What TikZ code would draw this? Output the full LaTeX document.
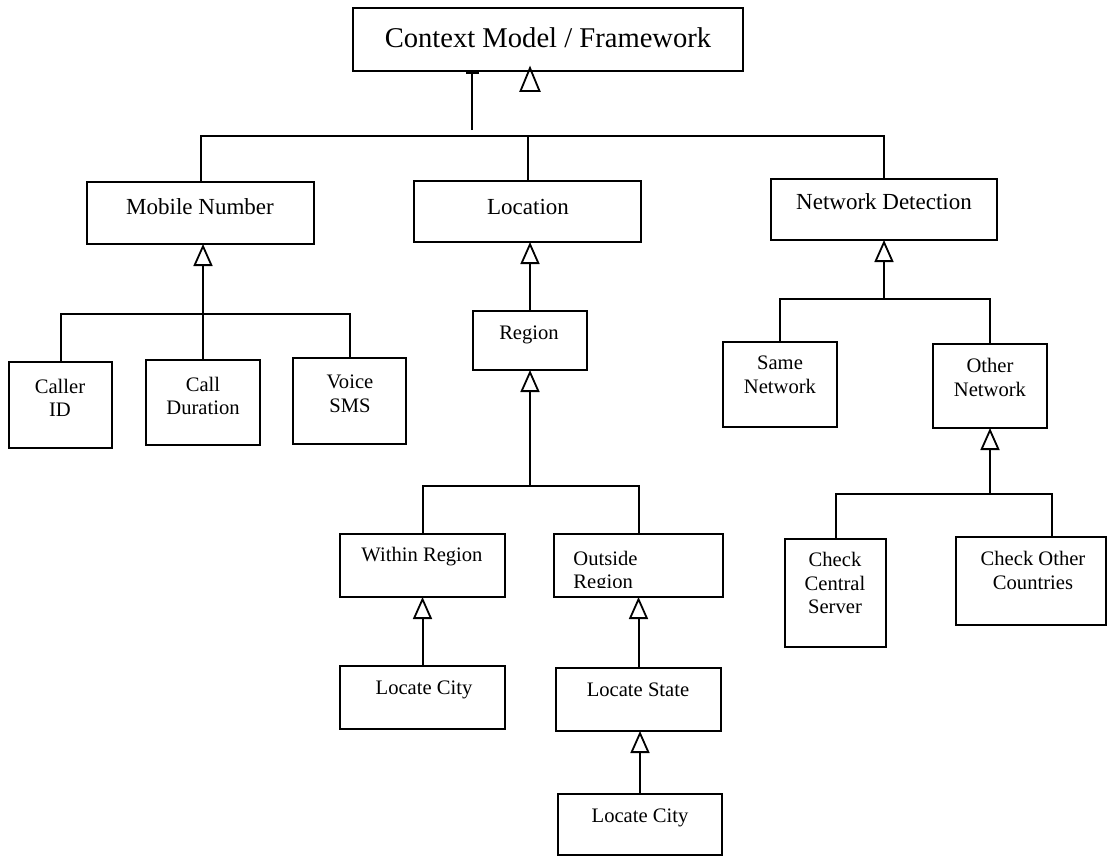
\documentclass[tikz,border=0pt]{standalone}
\usepackage{fontspec}
\setmainfont{Liberation Serif}
\usetikzlibrary{arrows.meta}
\tikzset{
  box/.style={draw, rectangle, line width=1pt, inner sep=0pt, outer sep=0pt},
  conn/.style={line width=1pt},
  inh/.style={conn, -{Triangle[open, length=11pt, width=9.5pt, line width=0.9pt]}},
  bigtxt/.style={font=\fontsize{14.3}{17}\selectfont, inner sep=0pt},
  midtxt/.style={font=\fontsize{11.5}{13.5}\selectfont, inner sep=0pt},
  smalltxt/.style={font=\fontsize{10.3}{11.8}\selectfont, inner sep=0pt, align=center},
}
\begin{document}
\begin{tikzpicture}[x=0.5pt, y=-0.5pt]
\useasboundingbox (0,0) rectangle (1109,857);

% boxes
\node[box, minimum width=195pt, minimum height=31.5pt] (ctx) at (548,39.5) {};
\node[box, minimum width=113.5pt, minimum height=31pt] (mn) at (200.5,213) {};
\node[box, minimum width=113.5pt, minimum height=30.5pt] (loc) at (527.5,211.5) {};
\node[box, minimum width=113pt, minimum height=30.5pt] (nd) at (884,209.5) {};
\node[box, minimum width=57pt, minimum height=29.5pt] (region) at (530,340.5) {};
\node[box, minimum width=51.5pt, minimum height=43pt] (caller) at (60.5,405) {};
\node[box, minimum width=57pt, minimum height=42.5pt] (calldur) at (203,402.5) {};
\node[box, minimum width=56.5pt, minimum height=43pt] (voice) at (349.5,401) {};
\node[box, minimum width=82.5pt, minimum height=31.5pt] (within) at (422.5,565.5) {};
\node[box, minimum width=82.5pt, minimum height=31.5pt] (lcone) at (422.5,697.5) {};
\node[box, minimum width=84.5pt, minimum height=31.5pt] (outside) at (638.5,565.5) {};
\node[box, minimum width=82.5pt, minimum height=31.5pt] (lstate) at (638.5,699.5) {};
\node[box, minimum width=82pt, minimum height=30.5pt] (lctwo) at (640,824.5) {};
\node[box, minimum width=57pt, minimum height=42.5pt] (same) at (780,384.5) {};
\node[box, minimum width=57pt, minimum height=42pt] (other) at (990,386) {};
\node[box, minimum width=50.5pt, minimum height=54pt] (ccs) at (835.5,593) {};
\node[box, minimum width=75pt, minimum height=44pt] (coc) at (1031,581) {};

% texts
\node[bigtxt] (ctxt) at (548,38) {Context Model / Framework};
\node[midtxt] (mnt) at (200,207) {Mobile Number};
\node[midtxt] (loct) at (528,207) {Location};
\node[midtxt] (ndt) at (884,202) {Network Detection};
\node[smalltxt] (regiont) at (529,335) {Region};
\node[smalltxt] (callert) at (60,398) {Caller\\ID};
\node[smalltxt] (calldurt) at (203,396) {Call\\Duration};
\node[smalltxt] (voicet) at (350,394) {Voice\\SMS};
\node[smalltxt] (withint) at (422,557) {Within Region};
\node[smalltxt] (lconet) at (424,690) {Locate City};
\begin{scope}
  \clip (556,536) rectangle (721,587);
  \node[smalltxt, anchor=west, align=left] (outsidet) at (573,572) {Outside\\Region};
\end{scope}
\node[smalltxt] (lstatet) at (638,690) {Locate State};
\node[smalltxt] (lctwot) at (640,818) {Locate City};
\node[smalltxt] (samet) at (780,375) {Same\\Network};
\node[smalltxt] (othert) at (990,377.5) {Other\\Network};
\node[smalltxt] (ccst) at (835,583) {Check\\Central\\Server};
\node[smalltxt] (coct) at (1033,570.5) {Check Other\\Countries};

% top level
\path (loc.north) ++(0,-45) coordinate (tj);
\draw[conn] (mn.north) |- (tj) -| (nd.north);
\draw[conn] (loc.north |- tj) -- (loc.north);
\coordinate (cf) at (472,130);
\draw[conn, -{Bar[width=6.5pt, line width=1.4pt]}] (cf) -- (cf |- ctx.south);
\draw[line width=0.9pt] (530,68) -- (520.5,91) -- (539.5,91) -- cycle;

% mobile number
\path (mn.south) ++(0,70) coordinate (mj);
\draw[inh] (calldur.north) -- (calldur.north |- mn.south);
\draw[conn] (caller.north) |- (mj) -| (voice.north);

% location
\draw[inh] (region.north) -- (region.north |- loc.south);
\path (region.south) ++(0,116) coordinate (rj);
\draw[inh] (rj) -- (region.south);
\draw[conn] (within.north) |- (rj) -| (outside.north);
\draw[inh] (lcone.north) -- (within.south);
\draw[inh] (lstate.north) -- (outside.south);
\draw[inh] (lctwo.north) -- (lctwo.north |- lstate.south);

% network detection
\path (nd.south) ++(0,59) coordinate (ndj);
\draw[inh] (ndj) -- (nd.south);
\draw[conn] (same.north) |- (ndj) -| (other.north);
\path (other.south) ++(0,66) coordinate (oj);
\coordinate (ojr) at (1052,494);
\draw[inh] (oj) -- (other.south);
\draw[conn] (ccs.north) |- (oj) -- (ojr) -- (ojr |- coc.north);
\end{tikzpicture}
\end{document}
